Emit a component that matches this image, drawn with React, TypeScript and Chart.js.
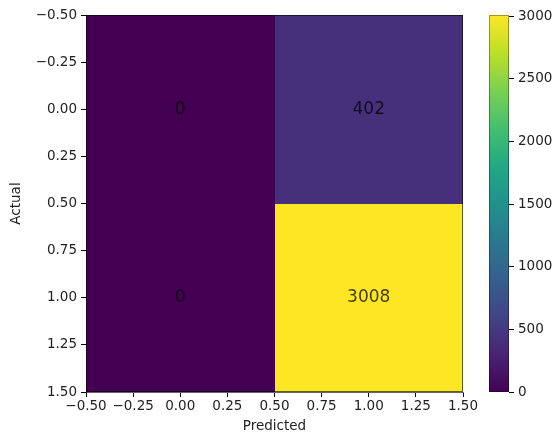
import React, { useEffect, useRef } from 'react';
import { Chart, registerables } from 'chart.js';
Chart.register(...registerables);

// ---- data ----
const actualLabels = [0, 1];
const predictedLabels = [0, 1];
const matrixRow0 = [0, 402];
const matrixRow1 = [0, 3008];
const matrix = [matrixRow0, matrixRow1];
const axisTicks = [-0.5, -0.25, 0, 0.25, 0.5, 0.75, 1, 1.25, 1.5];
const colorbarTicks = [0, 500, 1000, 1500, 2000, 2500, 3000];
const vmin = 0;
const vmax = 3008;

const VIRIDIS = ['#440154', '#482475', '#414487', '#355f8d', '#2a788e', '#21918c', '#22a884', '#44bf70', '#7ad151', '#bddf26', '#fde725'];

function hexToRgb(h: string) {
  return [parseInt(h.slice(1, 3), 16), parseInt(h.slice(3, 5), 16), parseInt(h.slice(5, 7), 16)];
}
function viridis(t: number) {
  t = Math.max(0, Math.min(1, t));
  const p = t * (VIRIDIS.length - 1);
  const i = Math.min(Math.floor(p), VIRIDIS.length - 2);
  const f = p - i;
  const a = hexToRgb(VIRIDIS[i]);
  const b = hexToRgb(VIRIDIS[i + 1]);
  const c = a.map((v, k) => Math.round(v + (b[k] - v) * f));
  return `rgb(${c[0]},${c[1]},${c[2]})`;
}

const FONT = "'DejaVu Sans', sans-serif";
const fmt = (v: any) => Number(v).toFixed(2).replace('-', '\u2212');

const heatmapPlugin = {
  id: 'heatmap',
  beforeDatasetsDraw(chart: any) {
    const { ctx, scales, chartArea } = chart;
    const xs = scales.x;
    const ys = scales.y;
    ctx.save();
    actualLabels.forEach((r, ri) => {
      predictedLabels.forEach((c, ci) => {
        const v = matrix[ri][ci];
        const x0 = Math.round(xs.getPixelForValue(c - 0.5));
        const x1 = Math.round(xs.getPixelForValue(c + 0.5));
        const y0 = Math.round(ys.getPixelForValue(r - 0.5));
        const y1 = Math.round(ys.getPixelForValue(r + 0.5));
        ctx.fillStyle = viridis((v - vmin) / (vmax - vmin));
        ctx.fillRect(Math.min(x0, x1), Math.min(y0, y1), Math.abs(x1 - x0), Math.abs(y1 - y0));
      });
    });
    actualLabels.forEach((r, ri) => {
      predictedLabels.forEach((c, ci) => {
        const v = matrix[ri][ci];
        ctx.fillStyle = 'rgba(0,0,0,0.75)';
        ctx.font = `17px ${FONT}`;
        ctx.textAlign = 'center';
        ctx.textBaseline = 'middle';
        ctx.fillText(String(v), xs.getPixelForValue(c), ys.getPixelForValue(r));
      });
    });
    ctx.strokeStyle = 'rgba(0,0,0,0.6)';
    ctx.lineWidth = 1;
    ctx.strokeRect(Math.round(chartArea.left) + 0.5, Math.round(chartArea.top) + 0.5, Math.round(chartArea.right - chartArea.left) - 1, Math.round(chartArea.bottom - chartArea.top) - 1);
    ctx.restore();
  },
};

const colorbarPlugin = {
  id: 'colorbar',
  beforeDatasetsDraw(chart: any) {
    const { ctx, chartArea, scales } = chart;
    const ys = scales.y;
    const top = ys.getPixelForValue(vmax);
    const bottom = ys.getPixelForValue(vmin);
    const g = ctx.createLinearGradient(0, bottom, 0, top);
    for (let i = 0; i <= 20; i++) {
      g.addColorStop(i / 20, viridis(i / 20));
    }
    ctx.save();
    ctx.fillStyle = g;
    ctx.fillRect(chartArea.left, top, chartArea.right - chartArea.left, bottom - top);
    ctx.strokeStyle = 'rgba(0,0,0,0.35)';
    ctx.lineWidth = 1;
    ctx.strokeRect(chartArea.left + 0.5, top + 0.5, chartArea.right - chartArea.left - 1, bottom - top - 1);
    ctx.restore();
  },
};

export default function App() {
  const mainRef = useRef<HTMLCanvasElement>(null);
  const cbRef = useRef<HTMLCanvasElement>(null);

  useEffect(() => {
    document.body.style.margin = '0';
    Chart.defaults.font.family = FONT;
    const points: any[] = [];
    actualLabels.forEach((r, ri) => predictedLabels.forEach((c, ci) => points.push({ x: c, y: r, v: matrix[ri][ci] })));

    const tickFont = { size: 13.5, family: FONT };
    const main = new Chart(mainRef.current as HTMLCanvasElement, {
      type: 'scatter',
      data: { datasets: [{ data: points, pointRadius: 0, pointHoverRadius: 0 }] },
      options: {
        animation: false,
        responsive: false,
        events: [],
        layout: { padding: { top: 15, right: 96, left: 0, bottom: 0 } },
        plugins: { legend: { display: false }, tooltip: { enabled: false } },
        scales: {
          x: {
            type: 'linear',
            min: -0.5,
            max: 1.5,
            afterBuildTicks: (s: any) => { s.ticks = axisTicks.map((v) => ({ value: v })); },
            afterFit: (s: any) => { s.height = 44; },
            ticks: { callback: fmt, color: '#222', font: tickFont, padding: 1, maxRotation: 0, autoSkip: false },
            grid: { drawOnChartArea: false, tickLength: 5, color: '#000', tickWidth: 1 },
            border: { display: true, color: 'rgba(0,0,0,0.6)' },
            title: { display: true, text: 'Predicted', color: '#222', font: tickFont, padding: { top: 1, bottom: 1 } },
          },
          y: {
            type: 'linear',
            min: -0.5,
            max: 1.5,
            reverse: true,
            afterBuildTicks: (s: any) => { s.ticks = axisTicks.map((v) => ({ value: v })); },
            afterFit: (s: any) => { s.width = 86; },
            ticks: { callback: fmt, color: '#222', font: tickFont, padding: 4, autoSkip: false },
            grid: { drawOnChartArea: false, tickLength: 5, color: '#000', tickWidth: 1 },
            border: { display: true, color: 'rgba(0,0,0,0.6)' },
            title: { display: true, text: 'Actual', color: '#222', font: tickFont, padding: { top: 8, bottom: 1 } },
          },
        },
      } as any,
      plugins: [heatmapPlugin],
    });

    const cb = new Chart(cbRef.current as HTMLCanvasElement, {
      type: 'scatter',
      data: { datasets: [{ data: [], pointRadius: 0 }] },
      options: {
        animation: false,
        responsive: false,
        events: [],
        layout: { padding: { top: 15, right: 5, left: 489, bottom: 44 } },
        plugins: { legend: { display: false }, tooltip: { enabled: false } },
        scales: {
          x: { type: 'linear', display: false },
          y: {
            type: 'linear',
            position: 'right',
            min: vmin,
            max: vmax,
            afterBuildTicks: (s: any) => { s.ticks = colorbarTicks.map((v) => ({ value: v })); },
            afterFit: (s: any) => { s.width = 45; },
            ticks: { color: '#222', font: tickFont, padding: 4, autoSkip: false, callback: (v: any) => String(v) },
            grid: { drawOnChartArea: false, tickLength: 5, color: '#000', tickWidth: 1 },
            border: { display: false },
          },
        },
      } as any,
      plugins: [colorbarPlugin],
    });

    return () => {
      main.destroy();
      cb.destroy();
    };
  }, []);

  return (
    <div style={{ position: 'relative', width: 559, height: 436, background: '#fff' }}>
      <canvas ref={mainRef} width={559} height={436} style={{ position: 'absolute', left: 0, top: 0 }} />
      <canvas ref={cbRef} width={559} height={436} style={{ position: 'absolute', left: 0, top: 0 }} />
    </div>
  );
}
